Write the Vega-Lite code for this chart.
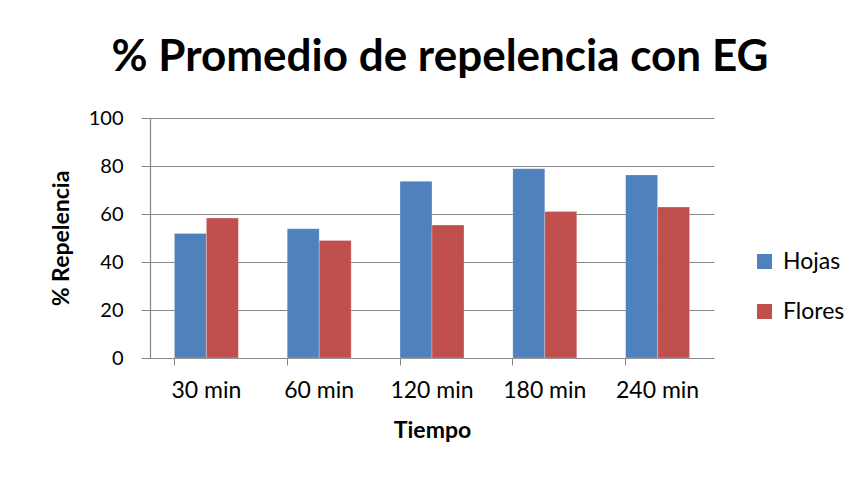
{
  "$schema": "https://vega.github.io/schema/vega-lite/v6.json",
  "width": 564,
  "height": 240,
  "autosize": {"type": "none"},
  "padding": {"left": 150, "top": 118, "right": 148, "bottom": 121},
  "background": "white",
  "title": {
    "text": "% Promedio de repelencia con EG",
    "font": "Lato",
    "fontSize": 44,
    "fontWeight": "bold",
    "color": "#000000",
    "anchor": "middle",
    "dx": 8,
    "offset": 28
  },
  "data": {
    "values": [
      {"tiempo": "30 min", "serie": "Hojas", "valor": 51.9},
      {"tiempo": "30 min", "serie": "Flores", "valor": 58.3},
      {"tiempo": "60 min", "serie": "Hojas", "valor": 53.9},
      {"tiempo": "60 min", "serie": "Flores", "valor": 49.0},
      {"tiempo": "120 min", "serie": "Hojas", "valor": 73.6},
      {"tiempo": "120 min", "serie": "Flores", "valor": 55.4},
      {"tiempo": "180 min", "serie": "Hojas", "valor": 78.9},
      {"tiempo": "180 min", "serie": "Flores", "valor": 61.0},
      {"tiempo": "240 min", "serie": "Hojas", "valor": 76.3},
      {"tiempo": "240 min", "serie": "Flores", "valor": 62.9}
    ]
  },
  "layer": [
    {
      "mark": {"type": "bar", "stroke": "#ffffff", "strokeOpacity": 0.5, "strokeWidth": 0.5},
      "encoding": {
        "x": {
          "field": "tiempo",
          "type": "nominal",
          "sort": ["30 min", "60 min", "120 min", "180 min", "240 min"],
          "scale": {"paddingInner": 0.433, "paddingOuter": 0.2165},
          "axis": {
            "orient": "bottom",
            "title": "Tiempo",
            "labelAngle": 0,
            "ticks": false,
            "labelFontSize": 23,
            "labelPadding": 21,
            "domain": false,
            "titlePadding": 17
          }
        },
        "xOffset": {
          "field": "serie",
          "type": "nominal",
          "sort": ["Hojas", "Flores"]
        },
        "y": {
          "field": "valor",
          "type": "quantitative",
          "scale": {"domain": [0, 100]},
          "axis": {
            "title": "% Repelencia",
            "values": [0, 20, 40, 60, 80, 100],
            "tickSize": 9,
            "labelFontSize": 20,
            "labelPadding": 18,
            "titlePadding": 15
          }
        },
        "color": {
          "field": "serie",
          "type": "nominal",
          "sort": ["Hojas", "Flores"],
          "scale": {"domain": ["Hojas", "Flores"], "range": ["#4F81BD", "#C0504D"]},
          "legend": {
            "title": null,
            "orient": "none",
            "legendX": 603,
            "legendY": 132,
            "symbolType": "square",
            "symbolSize": 225,
            "symbolStrokeWidth": 0,
            "labelFontSize": 23,
            "labelFont": "Lato",
            "labelColor": "#000000",
            "rowPadding": 26,
            "labelOffset": 7
          }
        }
      }
    },
    {
      "mark": {"type": "rule", "opacity": 0},
      "encoding": {
        "x": {
          "field": "tiempo",
          "type": "nominal",
          "sort": ["30 min", "60 min", "120 min", "180 min", "240 min"],
          "axis": {
            "orient": "bottom",
            "title": null,
            "labels": false,
            "ticks": true,
            "tickSize": 7,
            "bandPosition": 0,
            "domain": true
          }
        }
      }
    }
  ],
  "resolve": {"axis": {"x": "independent"}},
  "config": {
    "view": {"stroke": null},
    "axis": {
      "labelFont": "Lato",
      "labelColor": "#000000",
      "titleFont": "Lato",
      "titleFontSize": 23,
      "titleFontWeight": "bold",
      "titleColor": "#000000",
      "domainColor": "#868686",
      "tickColor": "#868686",
      "gridColor": "#868686",
      "gridWidth": 1,
      "domainWidth": 1.2
    },
    "axisX": {"grid": false},
    "axisY": {"grid": true}
  }
}
